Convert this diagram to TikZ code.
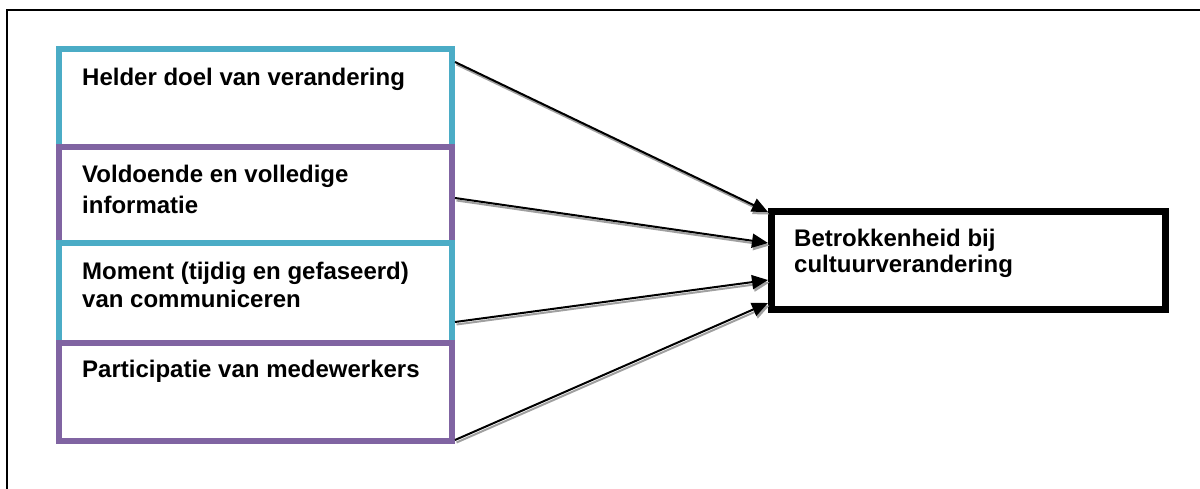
\documentclass[tikz,border=0pt]{standalone}
\usepackage{fontspec}
\setmainfont{Liberation Sans}
\usetikzlibrary{arrows.meta,calc}
\definecolor{boxcyan}{HTML}{4BACC6}
\definecolor{boxpurple}{HTML}{8064A2}
\definecolor{shadowgray}{HTML}{A0A0A0}

\begin{document}
\begin{tikzpicture}[x=1pt,y=-1pt,
  factor/.style={draw=#1, line width=6pt, minimum width=393pt, inner sep=0pt},
  outcome/.style={draw=black, line width=7pt, minimum width=393.5pt, minimum height=98pt, inner sep=0pt},
  % anchored on the baseline of the last line
  boxtext/.style={anchor=base west, inner sep=0pt, align=left, font=\bfseries\fontsize{24}{#1}\selectfont},
  arrowline/.style={line width=2pt, -{Triangle[length=16pt,width=14pt]}}
]
\useasboundingbox (0,0) rectangle (1200,488);

% frame
\draw[line width=2pt] (1201,9.5) -- (7,9.5) -- (7,489);

% factor boxes, each drawn over the lower edge of the one above
\node[factor=boxcyan,   minimum height=98pt]  (b1) at (255.5,98)  {};
\node[factor=boxpurple, minimum height=96pt]  (b2) at (255.5,195) {};
\node[factor=boxcyan,   minimum height=100pt] (b3) at (255.5,293) {};
\node[factor=boxpurple, minimum height=98pt]  (b4) at (255.5,392) {};

\node[boxtext=28] (t1) at (82,85)  {Helder doel van verandering};
\node[boxtext=31] (t2) at (82,213) {Voldoende en volledige\\informatie};
\node[boxtext=28] (t3) at (82,307) {Moment (tijdig en gefaseerd)\\van communiceren};
\node[boxtext=28] (t4) at (82,377) {Participatie van medewerkers};

% outcome box
\node[outcome] (r) at (968.25,260.5) {};
\node[boxtext=26] (rt) at (794,272) {Betrokkenheid bij\\cultuurverandering};

% connector ends
\coordinate (s1) at ($(b1.north east)+(0,16)$);
\coordinate (s2) at ($(b2.east)+(0,3)$);
\coordinate (s3) at ($(b3.south east)+(0,-24)$);
\coordinate (s4) at ($(b4.south east)+(0,-4)$);
\coordinate (e1) at ($(r.north west)+(0,4)$);
\coordinate (e2) at ($(r.west)+(0,-17.5)$);
\coordinate (e3) at ($(r.west)+(0,19.5)$);
\coordinate (e4) at ($(r.south west)+(0,-10)$);

% drop shadows of the connectors
\begin{scope}[transform canvas={shift={(1.5,2.5)}}]
  \foreach \i in {1,...,4} \draw[arrowline, shadowgray] (s\i) -- (e\i);
\end{scope}
% connectors
\foreach \i in {1,...,4} \draw[arrowline, black] (s\i) -- (e\i);
\end{tikzpicture}
\end{document}
